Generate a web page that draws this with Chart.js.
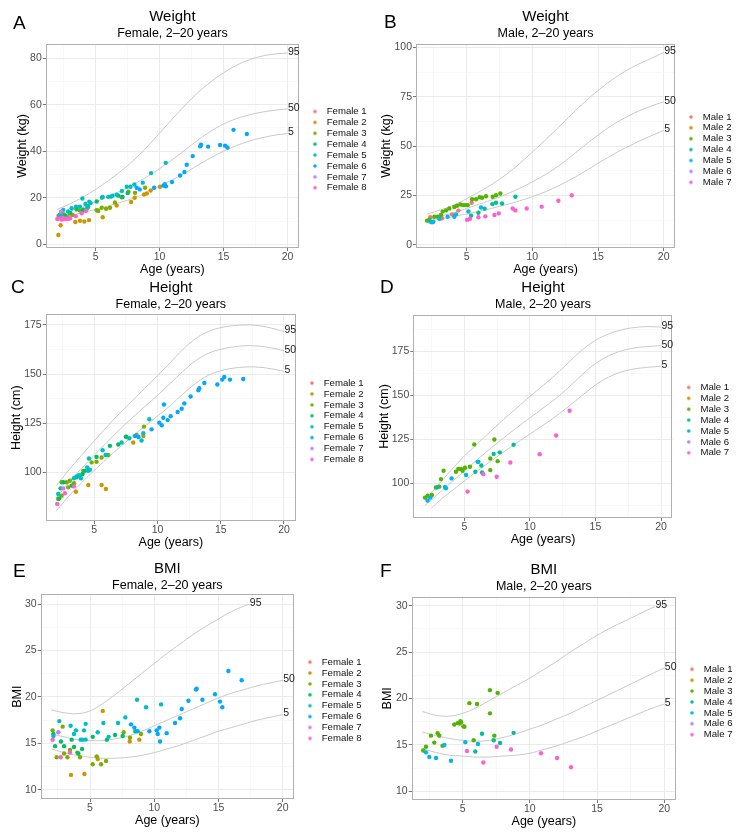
<!DOCTYPE html>
<html>
<head>
<meta charset="utf-8">
<script src="https://cdn.jsdelivr.net/npm/chart.js@4.4.1/dist/chart.umd.min.js"></script>
<style>
  body { margin: 0; background: #fff; }
  #page { position: relative; width: 742px; height: 834px; overflow: hidden; font-family: 'Liberation Sans', Arial, sans-serif; }
  canvas { position: absolute; }
  .tag { position: absolute; font-size: 19px; line-height: 1; color: #000; }
</style>
</head>
<body>
<div id="page">
  <canvas id="chartA" width="371" height="276" style="left:0;top:0"></canvas>
  <canvas id="chartB" width="371" height="276" style="left:371px;top:0"></canvas>
  <canvas id="chartC" width="371" height="278" style="left:0;top:271px"></canvas>
  <canvas id="chartD" width="371" height="275" style="left:371px;top:271px"></canvas>
  <canvas id="chartE" width="371" height="275" style="left:0;top:552px"></canvas>
  <canvas id="chartF" width="371" height="275" style="left:371px;top:553px"></canvas>
  <div class="tag" style="left:13px;top:13px">A</div>
  <div class="tag" style="left:384px;top:12px">B</div>
  <div class="tag" style="left:11px;top:277px">C</div>
  <div class="tag" style="left:380px;top:277px">D</div>
  <div class="tag" style="left:13px;top:561px">E</div>
  <div class="tag" style="left:380px;top:561px">F</div>
</div>
<script>
// ---- legend names and colours ----
const femaleNames = ['Female 1', 'Female 2', 'Female 3', 'Female 4', 'Female 5', 'Female 6', 'Female 7', 'Female 8'];
const maleNames = ['Male 1', 'Male 2', 'Male 3', 'Male 4', 'Male 5', 'Male 6', 'Male 7'];
const femaleColors = ['#F8766D', '#CD9600', '#7CAE00', '#00BE67', '#00BFC4', '#00A9FF', '#C77CFF', '#FF61CC'];
const maleColors = ['#F8766D', '#C49A00', '#53B400', '#00C094', '#00B6EB', '#A58AFF', '#FB61D7'];

// ---- axis ticks ----
const ageMajor = [5, 10, 15, 20];
const ageMinor = [2.5, 7.5, 12.5, 17.5];
const fWeightTicks = [0, 20, 40, 60, 80];
const fWeightMinor = [10, 30, 50, 70];
const mWeightTicks = [0, 25, 50, 75, 100];
const mWeightMinor = [12.5, 37.5, 62.5, 87.5];
const heightTicks = [100, 125, 150, 175];
const heightMinor = [87.5, 112.5, 137.5, 162.5, 187.5];
const bmiTicks = [10, 15, 20, 25, 30];
const bmiMinor = [12.5, 17.5, 22.5, 27.5];

// ---- reference percentile curves (age, value) ----
const curveAges = [2, 3, 4, 5, 6, 7, 8, 9, 10, 11, 12, 13, 14, 15, 16, 17, 18, 19, 20];
const mHeight5Ages = [2.5, 3, 4, 5, 6, 7, 8, 9, 10, 11, 12, 13, 14, 15, 16, 17, 18, 19, 20];
const fBmi95Ages = [2, 3, 4, 5, 6, 7, 8, 9, 10, 11, 12, 13, 14, 15, 16, 17, 17.4];
const mBmi95Ages = [2, 3, 4, 5, 6, 7, 8, 9, 10, 11, 12, 13, 14, 15, 16, 17, 18, 19, 19.3];

const fWeightP5 = [11.0, 12.3, 13.7, 15.0, 16.5, 18.1, 19.9, 22.2, 25.0, 27.7, 30.7, 34.0, 37.2, 40.0, 42.4, 44.3, 45.8, 46.9, 47.6];
const fWeightP50 = [12.2, 14.2, 16.2, 18.3, 20.6, 23.1, 25.9, 29.0, 32.5, 36.4, 40.6, 44.8, 48.6, 51.7, 54.0, 55.6, 56.8, 57.6, 58.2];
const fWeightP95 = [15.0, 17.4, 20.3, 23.6, 27.4, 31.6, 36.3, 41.8, 47.8, 53.9, 59.8, 65.2, 69.8, 73.7, 76.9, 79.3, 80.9, 81.8, 82.2];

const mWeightP5 = [11.8, 13.0, 14.3, 15.6, 17.0, 18.6, 20.3, 22.2, 24.4, 26.9, 29.9, 33.4, 37.2, 41.3, 45.2, 48.8, 52.1, 55.1, 58.0];
const mWeightP50 = [12.8, 14.4, 16.3, 18.4, 20.7, 23.0, 25.6, 28.5, 31.9, 35.6, 40.0, 45.1, 50.5, 55.6, 60.3, 64.2, 67.5, 70.2, 72.5];
const mWeightP95 = [15.6, 17.6, 20.1, 23.4, 27.0, 31.0, 35.6, 41.0, 47.0, 53.2, 59.6, 66.2, 72.5, 78.2, 83.3, 87.7, 91.3, 94.4, 97.5];

const fHeightP5 = [80.5, 88.0, 94.8, 101.0, 107.0, 112.7, 118.2, 123.5, 128.6, 134.0, 139.8, 145.2, 149.3, 151.7, 153.0, 153.6, 153.5, 152.7, 151.4];
const fHeightP50 = [87.0, 95.0, 102.0, 108.8, 115.3, 121.7, 127.8, 133.5, 139.2, 145.2, 151.3, 156.8, 160.5, 162.6, 163.8, 164.4, 164.2, 163.3, 161.9];
const fHeightP95 = [93.3, 101.3, 108.8, 116.0, 123.2, 130.0, 136.5, 142.8, 149.2, 155.8, 162.5, 168.0, 171.6, 173.6, 174.6, 175.0, 174.6, 173.4, 171.6];

const mHeightP5 = [85.9, 89.5, 95.5, 101.3, 107.0, 112.5, 117.8, 123.0, 128.0, 133.0, 138.2, 144.0, 150.0, 155.8, 160.3, 163.3, 165.0, 165.9, 166.5];
const mHeightP50 = [87.4, 94.0, 100.5, 107.0, 113.5, 119.8, 125.8, 131.6, 137.2, 142.7, 148.3, 154.8, 161.8, 168.0, 172.4, 175.3, 176.9, 177.7, 178.2];
const mHeightP95 = [90.5, 99.0, 107.5, 115.5, 122.5, 129.5, 136.3, 142.8, 149.3, 155.5, 162.0, 169.0, 175.8, 181.2, 184.8, 187.2, 188.5, 189.0, 188.7];

const fBmiP5 = [14.4, 14.0, 13.7, 13.5, 13.4, 13.4, 13.5, 13.7, 14.0, 14.4, 14.8, 15.3, 15.8, 16.3, 16.7, 17.1, 17.5, 17.8, 18.1];
const fBmiP50 = [16.0, 15.7, 15.4, 15.3, 15.3, 15.5, 15.8, 16.3, 16.9, 17.5, 18.1, 18.7, 19.3, 19.9, 20.4, 20.8, 21.2, 21.5, 21.8];
const fBmiP95 = [18.6, 18.3, 18.2, 18.5, 19.3, 20.3, 21.4, 22.5, 23.6, 24.7, 25.7, 26.7, 27.6, 28.4, 29.2, 29.8, 30.0];

const mBmiP5 = [14.6, 14.2, 13.9, 13.8, 13.7, 13.7, 13.8, 13.9, 14.1, 14.5, 14.9, 15.4, 15.9, 16.5, 17.1, 17.7, 18.3, 18.9, 19.4];
const mBmiP50 = [16.4, 16.0, 15.7, 15.5, 15.4, 15.5, 15.8, 16.2, 16.7, 17.2, 17.8, 18.4, 19.1, 19.8, 20.5, 21.2, 21.9, 22.6, 23.3];
const mBmiP95 = [18.6, 18.2, 18.1, 18.4, 19.0, 19.8, 20.6, 21.4, 22.2, 23.1, 24.0, 25.0, 25.9, 26.8, 27.6, 28.3, 29.0, 29.7, 29.9];

// ---- measurements per child: [age, value] ----
// A: female weight (kg)
const fw1 = [];
const fw2 = [[2.08, 4.0], [2.26, 8.2], [3.41, 9.6], [3.77, 10.1], [4.11, 9.8], [4.48, 10.4], [5.55, 11.6], [6.64, 16.7], [7.77, 18.2], [8.05, 20.0], [8.78, 21.4], [9.0, 21.8], [9.3, 23.1], [10.03, 24.7]];
const fw3 = [[2.1, 12.3], [2.47, 12.9], [2.75, 12.0], [2.99, 13.2], [3.2, 12.6], [3.51, 14.9], [3.77, 14.5], [4.04, 15.0], [4.35, 15.5], [5.08, 14.6], [5.2, 14.3], [5.47, 15.7], [5.81, 15.3], [6.12, 15.7], [6.51, 18.0], [7.03, 20.2], [7.56, 22.6], [8.08, 22.1], [8.86, 24.3]];
const fw4 = [[2.2, 12.6], [2.6, 12.4], [3.0, 13.6], [3.5, 15.3], [4.0, 14.6], [4.4, 16.4], [5.08, 18.4], [5.5, 20.1], [6.2, 20.5], [6.77, 20.9], [7.1, 20.3], [7.5, 22.0]];
const fw5 = [[2.2, 12.5], [2.47, 14.8], [2.85, 14.1], [3.12, 15.5], [3.46, 16.2], [3.77, 16.2], [3.96, 19.7], [4.2, 17.3], [4.35, 16.0], [4.5, 18.3], [4.61, 17.7], [5.55, 20.3], [5.98, 20.4], [6.32, 20.9], [6.64, 21.3], [7.05, 22.9], [7.43, 24.7], [7.72, 24.7], [8.03, 25.7], [8.68, 26.5], [9.33, 30.6], [10.48, 35.0]];
const fw6 = [[8.21, 24.3], [8.45, 23.6], [9.57, 24.3], [10.3, 25.2], [10.4, 25.8], [10.5, 24.9], [10.97, 26.8], [11.6, 29.6], [11.94, 31.1], [12.12, 34.2], [12.59, 37.9], [13.17, 42.1], [13.24, 42.8], [13.79, 42.0], [14.73, 42.7], [15.12, 42.4], [15.3, 41.6], [15.78, 49.2], [16.82, 47.4]];
const fw7 = [[2.3, 14.0]];
const fw8 = [[2.0, 10.9], [2.2, 11.1], [2.35, 10.6], [2.45, 11.3], [2.55, 10.8], [2.7, 11.0], [2.85, 10.9], [3.0, 11.2], [3.45, 12.1], [3.9, 13.3], [4.24, 14.3]];

// B: male weight (kg)
const mw1 = [[2.23, 13.9], [3.12, 13.4], [3.88, 15.4], [4.37, 17.3], [5.38, 21.3]];
const mw2 = [];
const mw3 = [[1.98, 12.2], [2.16, 12.7], [2.54, 14.2], [2.79, 14.2], [3.04, 15.1], [3.17, 16.8], [3.43, 17.4], [3.68, 18.4], [4.06, 19.1], [4.26, 19.8], [4.52, 20.4], [4.72, 20.1], [4.9, 20.1], [5.08, 20.1], [5.41, 23.1], [5.71, 23.1], [5.99, 24.1], [6.17, 23.8], [6.47, 24.6], [6.98, 24.3], [7.23, 25.1], [7.56, 26.0]];
const mw4 = [[5.33, 14.7], [5.89, 16.2], [6.37, 18.3], [6.95, 20.6], [7.23, 21.3], [7.69, 20.9], [8.71, 24.3]];
const mw5 = [[2.23, 11.7], [2.36, 11.4], [2.46, 11.7], [2.92, 13.2], [3.55, 14.2], [4.06, 14.2], [4.19, 15.4], [5.13, 16.9], [6.09, 18.9]];
const mw6 = [];
const mw7 = [[5.03, 12.6], [5.25, 13.2], [5.89, 13.9], [6.42, 14.4], [7.11, 15.1], [7.44, 15.9], [8.5, 18.4], [8.71, 17.4], [9.57, 18.4], [10.71, 19.3], [11.98, 22.3], [13.0, 25.1]];

// C: female height (cm)
const fh1 = [];
const fh2 = [[3.55, 90.2], [4.53, 93.6], [5.58, 93.6], [5.92, 91.6], [8.08, 115.2], [8.88, 118.5]];
const fh3 = [[2.15, 86.5], [2.42, 88.2], [2.42, 95.0], [2.81, 95.0], [2.94, 92.4], [3.07, 95.8], [3.4, 94.5], [3.87, 98.3], [4.13, 100.8], [4.79, 105.1], [5.18, 105.4], [5.58, 107.6], [6.11, 108.8], [7.56, 118.0], [8.35, 119.0], [8.93, 123.3]];
const fh4 = [[2.23, 86.8], [2.34, 91.9], [2.55, 95.0], [3.21, 93.3], [3.6, 97.5], [4.08, 99.2], [4.26, 100.8], [5.18, 107.9], [5.9, 108.9], [6.24, 113.5], [6.9, 114.2], [7.5, 118.2]];
const fh5 = [[2.15, 89.0], [3.39, 97.0], [3.6, 98.0], [3.79, 98.6], [3.95, 97.0], [4.45, 102.5], [4.53, 100.8], [4.58, 107.1], [4.66, 101.3], [5.66, 111.3], [5.97, 108.9], [7.16, 115.2], [7.77, 117.4], [8.74, 116.2], [8.88, 119.9], [9.35, 127.0]];
const fh6 = [[8.22, 118.5], [8.5, 118.0], [9.53, 121.9], [10.14, 125.3], [10.33, 124.0], [10.46, 127.8], [10.51, 134.5], [10.8, 126.6], [11.04, 128.6], [11.59, 130.7], [11.91, 132.4], [12.12, 135.1], [12.62, 138.6], [13.23, 141.8], [13.3, 142.8], [13.7, 145.5], [14.73, 144.7], [15.12, 147.2], [15.28, 148.5], [15.73, 147.2], [16.78, 147.5]];
const fh7 = [[2.55, 91.9]];
const fh8 = [[2.07, 84.0], [2.68, 89.4], [3.39, 92.9]];

// D: male height (cm)
const mh1 = [];
const mh2 = [];
const mh3 = [[2.0, 91.9], [2.2, 93.0], [2.53, 93.4], [2.84, 97.6], [3.09, 98.1], [3.22, 102.4], [3.42, 107.1], [4.36, 106.6], [4.54, 108.1], [4.75, 108.1], [4.87, 107.1], [5.05, 108.8], [5.43, 109.4], [5.76, 122.1], [6.98, 114.1], [6.98, 107.5], [7.29, 124.9], [7.54, 112.6]];
const mh4 = [[2.92, 97.7], [5.84, 106.6], [6.07, 112.2], [6.3, 110.1], [6.35, 106.2], [7.24, 116.7], [7.7, 117.6], [8.76, 121.9]];
const mh5 = [[2.2, 90.2], [2.41, 91.9], [3.53, 97.9], [3.6, 97.2], [4.03, 102.8], [5.13, 104.7], [6.02, 112.2]];
const mh6 = [];
const mh7 = [[5.25, 95.3], [6.45, 105.2], [7.47, 103.7], [8.51, 111.8], [10.75, 116.5], [12.0, 127.2], [13.03, 141.2]];

// E: female BMI
const fb1 = [];
const fb2 = [[3.52, 11.6], [4.56, 11.7], [5.6, 13.3], [5.99, 18.5], [8.09, 15.2], [8.84, 15.4]];
const fb3 = [[2.09, 16.4], [2.4, 13.5], [2.87, 16.8], [2.98, 13.9], [3.24, 13.5], [3.44, 14.3], [4.01, 14.0], [4.22, 13.5], [5.21, 12.75], [5.52, 13.6], [5.86, 12.75], [6.25, 13.1], [7.62, 16.2], [8.11, 15.6], [8.97, 16.0]];
const fb4 = [[2.15, 16.0], [2.28, 14.7], [2.74, 15.2], [2.98, 14.7], [3.57, 15.4], [3.75, 14.6], [4.09, 13.9], [4.38, 14.4], [5.21, 15.7], [6.32, 15.4], [6.95, 15.9], [7.54, 15.8], [8.53, 16.3]];
const fb5 = [[2.15, 15.8], [2.61, 17.4], [3.49, 16.9], [3.75, 16.0], [3.91, 16.4], [4.27, 15.4], [4.43, 15.4], [4.53, 16.4], [4.66, 17.1], [4.66, 15.4], [5.6, 16.2], [6.04, 17.2], [6.45, 15.7], [7.18, 17.2], [7.75, 17.8], [8.66, 19.7], [9.36, 18.9], [10.53, 19.2]];
const fb6 = [[8.19, 17.05], [8.45, 16.7], [8.71, 16.3], [9.62, 16.3], [10.19, 16.4], [10.27, 16.0], [10.4, 16.7], [10.45, 15.2], [10.97, 16.1], [11.62, 17.2], [12.01, 17.7], [12.14, 18.7], [12.66, 19.6], [13.25, 20.8], [13.3, 20.9], [13.75, 19.7], [14.73, 20.3], [15.12, 19.5], [15.3, 18.9], [15.77, 22.8], [16.81, 21.8]];
const fb7 = [[2.53, 16.2]];
const fb8 = [[2.09, 15.4], [2.72, 13.5], [3.44, 14.0]];

// F: male BMI
const mb1 = [];
const mb2 = [];
const mb3 = [[2.07, 14.4], [2.27, 14.8], [2.64, 16.0], [2.89, 15.25], [3.14, 16.25], [3.26, 16.0], [3.5, 14.9], [4.38, 17.2], [4.63, 17.35], [4.78, 17.3], [4.83, 17.55], [4.88, 17.45], [5.06, 17.0], [5.13, 16.95], [5.5, 19.5], [5.82, 15.5], [6.07, 19.4], [7.03, 20.9], [7.03, 18.4], [7.36, 16.0], [7.6, 20.6]];
const mb4 = [[5.94, 14.3], [6.44, 16.2], [7.31, 15.5], [7.78, 15.2], [8.79, 16.3]];
const mb5 = [[2.27, 14.2], [2.52, 13.7], [3.02, 13.6], [3.64, 15.0], [4.13, 13.3], [5.2, 15.3], [6.14, 15.1]];
const mb6 = [];
const mb7 = [[5.32, 14.35], [6.54, 13.1], [7.53, 14.8], [8.6, 14.5], [10.83, 14.1], [12.02, 13.6], [13.06, 12.6]];

Chart.defaults.font.family = "'Liberation Sans', Arial, sans-serif";

// small canvas with a dot, used as legend marker (dot sits right of the box centre)
function dotImage(color) {
    const c = document.createElement('canvas');
    c.width = 24;
    c.height = 8;
    const g = c.getContext('2d');
    g.fillStyle = color;
    g.beginPath();
    g.arc(15.9, 4, 1.8, 0, Math.PI * 2);
    g.fill();
    return c;
}

// grey box round the panel
const panelBorder = {
    id: 'panelBorder',
    afterDatasetsDraw(chart) {
        const { ctx, chartArea: a } = chart;
        ctx.save();
        ctx.strokeStyle = '#b0b0b0';
        ctx.lineWidth = 1;
        ctx.strokeRect(Math.round(a.left) + 0.5, Math.round(a.top) + 0.5, Math.round(a.width) - 1, Math.round(a.height) - 1);
        ctx.restore();
    }
};

// "95", "50", "5" written at the end of each curve
const endLabels = {
    id: 'endLabels',
    afterDatasetsDraw(chart) {
        const ctx = chart.ctx;
        ctx.save();
        ctx.font = "10.5px 'Liberation Sans', Arial, sans-serif";
        ctx.fillStyle = '#1a1a1a';
        ctx.textBaseline = 'middle';
        chart.data.datasets.forEach((ds, i) => {
            if (!ds.isCurve) return;
            const pts = chart.getDatasetMeta(i).data;
            const last = pts[pts.length - 1];
            ctx.fillText(ds.label, last.x + 0.5, last.y - 1);
        });
        ctx.restore();
    }
};

function axis(title, min, max, majors, minors, fixedWidth) {
    const isMajor = v => majors.includes(v);
    const conf = {
        type: 'linear',
        min: min,
        max: max,
        afterBuildTicks: scale => {
            scale.ticks = majors.concat(minors).filter(v => v > min && v < max).sort((a, b) => a - b).map(v => ({ value: v }));
        },
        ticks: {
            autoSkip: false,
            maxRotation: 0,
            padding: 1,
            color: '#4d4d4d',
            font: { size: 10.5, lineHeight: 1 },
            callback: v => isMajor(v) ? String(v) : ''
        },
        grid: {
            color: c => isMajor(c.tick.value) ? '#ebebeb' : '#f4f4f4',
            lineWidth: c => isMajor(c.tick.value) ? 1 : 0.6,
            tickLength: 3,
            tickColor: c => isMajor(c.tick.value) ? '#777' : 'rgba(0,0,0,0)'
        },
        border: { display: false },
        title: { display: true, text: title, color: '#000', font: { size: 12.5, lineHeight: 1 }, padding: 0 }
    };
    if (fixedWidth) {
        conf.afterFit = scale => { scale.width = fixedWidth; };
    }
    return conf;
}

function makeChart(id, cfg) {
    const datasets = [];
    cfg.curves.forEach(c => {
        datasets.push({
            label: c.label,
            isCurve: true,
            data: c.values.map((v, k) => ({ x: c.ages[k], y: v })),
            showLine: true,
            borderColor: '#c8c8c8',
            borderWidth: 1,
            pointRadius: 0,
            tension: 0.4,
            order: 100
        });
    });
    cfg.series.forEach((s, i) => {
        datasets.push({
            label: cfg.names[i],
            data: s.map(p => ({ x: p[0], y: p[1] })),
            backgroundColor: cfg.colors[i],
            borderColor: cfg.colors[i],
            borderWidth: 0,
            pointRadius: 2.2,
            pointHoverRadius: 2.2,
            order: cfg.names.length - i
        });
    });

    return new Chart(document.getElementById(id), {
        type: 'scatter',
        data: { datasets },
        options: {
            responsive: false,
            animation: false,
            events: [],
            layout: { padding: { left: cfg.padLeft, right: cfg.padRight, top: 0, bottom: 0 } },
            plugins: {
                title: {
                    display: true, text: cfg.title, fullSize: false, color: '#000',
                    font: { size: 15, weight: 'normal' }, padding: { top: 8, bottom: 0 }
                },
                subtitle: {
                    display: true, text: cfg.subtitle, fullSize: false, color: '#000',
                    font: { size: 12.5, weight: 'normal' }, padding: { top: 0, bottom: cfg.subGap }
                },
                legend: {
                    position: 'right',
                    fullSize: false,
                    maxWidth: cfg.legendWidth,
                    title: { display: true, text: ' ', font: { size: 6 }, padding: 0 },
                    labels: {
                        usePointStyle: true,
                        pointStyleWidth: 21.6,
                        padding: 1.3,
                        color: '#111',
                        font: { size: 9.6 },
                        sort: (a, b) => a.datasetIndex - b.datasetIndex,
                        filter: (item, data) => !data.datasets[item.datasetIndex].isCurve,
                        generateLabels: chart => Chart.defaults.plugins.legend.labels.generateLabels(chart).map(item => {
                            item.pointStyle = dotImage(chart.data.datasets[item.datasetIndex].backgroundColor || '#000');
                            return item;
                        })
                    }
                },
                tooltip: { enabled: false }
            },
            scales: {
                x: axis('Age (years)', cfg.xMin, cfg.xMax, ageMajor, ageMinor),
                y: axis(cfg.yTitle, cfg.yMin, cfg.yMax, cfg.yMajor, cfg.yMinor, cfg.yWidth)
            }
        },
        plugins: [panelBorder, endLabels]
    });
}

makeChart('chartA', {
    title: 'Weight', subtitle: 'Female, 2\u201320 years', yTitle: 'Weight (kg)',
    names: femaleNames, colors: femaleColors,
    series: [fw1, fw2, fw3, fw4, fw5, fw6, fw7, fw8],
    curves: [
        { label: '95', ages: curveAges, values: fWeightP95 },
        { label: '50', ages: curveAges, values: fWeightP50 },
        { label: '5', ages: curveAges, values: fWeightP5 }
    ],
    xMin: 1.1, xMax: 20.9, yMin: -1.6, yMax: 86.1, yMajor: fWeightTicks, yMinor: fWeightMinor,
    padLeft: 16.45, yWidth: 29.35, padRight: 0, legendWidth: 72, subGap: 3
});

makeChart('chartB', {
    title: 'Weight', subtitle: 'Male, 2\u201320 years', yTitle: 'Weight (kg)',
    names: maleNames, colors: maleColors,
    series: [mw1, mw2, mw3, mw4, mw5, mw6, mw7],
    curves: [
        { label: '95', ages: curveAges, values: mWeightP95 },
        { label: '50', ages: curveAges, values: mWeightP50 },
        { label: '5', ages: curveAges, values: mWeightP5 }
    ],
    xMin: 1.14, xMax: 20.86, yMin: -1.66, yMax: 101.8, yMajor: mWeightTicks, yMinor: mWeightMinor,
    padLeft: 9.75, yWidth: 35.25, padRight: 0.5, legendWidth: 90, subGap: 3
});

makeChart('chartC', {
    title: 'Height', subtitle: 'Female, 2\u201320 years', yTitle: 'Height (cm)',
    names: femaleNames, colors: femaleColors,
    series: [fh1, fh2, fh3, fh4, fh5, fh6, fh7, fh8],
    curves: [
        { label: '95', ages: curveAges, values: fHeightP95 },
        { label: '50', ages: curveAges, values: fHeightP50 },
        { label: '5', ages: curveAges, values: fHeightP5 }
    ],
    xMin: 1.16, xMax: 20.95, yMin: 75.3, yMax: 180.4, yMajor: heightTicks, yMinor: heightMinor,
    padLeft: 10.45, yWidth: 35.25, padRight: 0, legendWidth: 75, subGap: 2.3
});

makeChart('chartD', {
    title: 'Height', subtitle: 'Male, 2\u201320 years', yTitle: 'Height (cm)',
    names: maleNames, colors: maleColors,
    series: [mh1, mh2, mh3, mh4, mh5, mh6, mh7],
    curves: [
        { label: '95', ages: curveAges, values: mHeightP95 },
        { label: '50', ages: curveAges, values: mHeightP50 },
        { label: '5', ages: mHeight5Ages, values: mHeightP5 }
    ],
    xMin: 1.11, xMax: 20.89, yMin: 80.3, yMax: 195.6, yMajor: heightTicks, yMinor: heightMinor,
    padLeft: 7.75, yWidth: 34.55, padRight: 2.8, legendWidth: 90, subGap: 3
});

makeChart('chartE', {
    title: 'BMI', subtitle: 'Female, 2\u201320 years', yTitle: 'BMI',
    names: femaleNames, colors: femaleColors,
    series: [fb1, fb2, fb3, fb4, fb5, fb6, fb7, fb8],
    curves: [
        { label: '95', ages: fBmi95Ages, values: fBmiP95 },
        { label: '50', ages: curveAges, values: fBmiP50 },
        { label: '5', ages: curveAges, values: fBmiP5 }
    ],
    xMin: 1.16, xMax: 20.88, yMin: 9.0, yMax: 31.07, yMajor: bmiTicks, yMinor: bmiMinor,
    padLeft: 11.05, yWidth: 29.65, padRight: 2, legendWidth: 75, subGap: 1.3
});

makeChart('chartF', {
    title: 'BMI', subtitle: 'Male, 2\u201320 years', yTitle: 'BMI',
    names: maleNames, colors: maleColors,
    series: [mb1, mb2, mb3, mb4, mb5, mb6, mb7],
    curves: [
        { label: '95', ages: mBmi95Ages, values: mBmiP95 },
        { label: '50', ages: curveAges, values: mBmiP50 },
        { label: '5', ages: curveAges, values: mBmiP5 }
    ],
    xMin: 1.21, xMax: 20.87, yMin: 9.07, yMax: 30.96, yMajor: bmiTicks, yMinor: bmiMinor,
    padLeft: 10.45, yWidth: 30.25, padRight: 0, legendWidth: 66, subGap: 2.7
});
</script>
</body>
</html>
